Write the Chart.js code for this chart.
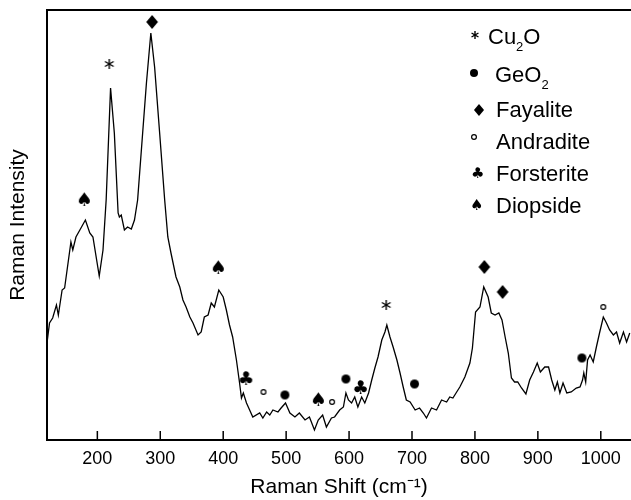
<!DOCTYPE html>
<html lang="en">
<head>
    <meta charset="UTF-8">
    <title>Raman Spectrum</title>
    <script src="https://cdn.jsdelivr.net/npm/chart.js"></script>
    <style>
        html, body { margin: 0; padding: 0; background: #fff; }
    </style>
</head>
<body>
    <canvas id="ramanChart" width="631" height="500"></canvas>

    <script>
        // Raman shift (cm-1) and intensity (arb. units) of the measured spectrum
        const shift = [120, 124, 129, 135, 138, 144, 148, 158, 161, 166,
            174, 181, 188, 193, 203, 209, 214, 221, 227, 233,
            235, 238, 243, 248, 254, 259, 264, 272, 278, 285,
            291, 299, 307, 312, 317, 325, 331, 336, 341, 347,
            352, 360, 365, 370, 376, 381, 386, 393, 400, 405,
            410, 415, 421, 426, 429, 432, 437, 442, 447, 458,
            463, 469, 474, 479, 487, 492, 499, 506, 514, 521,
            530, 537, 545, 551, 558, 564, 572, 577, 585, 591,
            595, 599, 604, 609, 614, 620, 625, 631, 636, 641,
            646, 652, 657, 660, 665, 670, 676, 681, 686, 691,
            697, 705, 712, 718, 723, 731, 739, 747, 755, 760,
            765, 771, 776, 784, 792, 796, 801, 808, 814, 821,
            826, 832, 838, 843, 848, 853, 858, 863, 868, 874,
            881, 887, 893, 899, 904, 911, 917, 922, 927, 931,
            935, 940, 946, 953, 961, 967, 971, 973, 976, 979,
            983, 988, 993, 998, 1004, 1009, 1014, 1020, 1025, 1030,
            1036, 1041, 1046];
        const intensity = [97, 117, 122, 135, 125, 150, 152, 198, 190, 203,
            212, 220, 207, 203, 164, 190, 240, 352, 307, 227,
            223, 225, 210, 213, 211, 220, 240, 307, 357, 407,
            373, 307, 240, 203, 187, 163, 153, 140, 133, 123,
            117, 105, 108, 123, 125, 137, 133, 150, 143, 130,
            115, 103, 80, 57, 42, 47, 37, 30, 23, 27,
            22, 28, 25, 30, 28, 32, 37, 27, 23, 27,
            20, 23, 10, 20, 25, 13, 22, 23, 30, 33,
            47, 40, 37, 43, 33, 43, 37, 47, 60, 72,
            83, 100, 108, 115, 103, 93, 80, 67, 53, 40,
            38, 30, 32, 27, 22, 32, 30, 40, 38, 43,
            42, 48, 53, 63, 77, 92, 128, 133, 153, 143,
            127, 125, 127, 120, 103, 87, 62, 58, 58, 52,
            46, 60, 68, 77, 68, 73, 73, 60, 50, 58,
            47, 57, 47, 48, 52, 53, 60, 67, 58, 80,
            85, 78, 93, 107, 123, 117, 110, 105, 108, 97,
            108, 98, 107];

        // phase assignments: where each marker sits (shift, height above baseline)
        const phases = ['Cu_2O', 'GeO_2', 'Fayalite', 'Andradite', 'Forsterite', 'Diopside'];
        const cu2oShift = [219, 659];
        const cu2oHeight = [376, 135];
        const geo2Shift = [498, 595, 704, 970];
        const geo2Height = [45, 61, 56, 82];
        const fayaliteShift = [287, 815, 844];
        const fayaliteHeight = [418, 173, 148];
        const andraditeShift = [464, 573, 1004];
        const andraditeHeight = [48, 38, 133];
        const forsteriteShift = [436, 618];
        const forsteriteHeight = [62, 53];
        const diopsideShift = [180, 393, 552];
        const diopsideHeight = [241, 173, 41];

        const xTicks = [200, 300, 400, 500, 600, 700, 800, 900, 1000];

        const FONT = '"Liberation Sans", Arial, sans-serif';

        // small canvases used as point styles
        function makeSymbol(kind, s) {
            const c = document.createElement('canvas');
            let ctx = c.getContext('2d');
            if (kind === 'spade' || kind === 'club') {
                const ch = kind === 'spade' ? '\u2660' : '\u2663';
                const font = s + 'px "DejaVu Sans"';
                ctx.font = font;
                const m = ctx.measureText(ch);
                c.width = Math.ceil(m.actualBoundingBoxLeft + m.actualBoundingBoxRight) + 2;
                c.height = Math.ceil(m.actualBoundingBoxAscent + m.actualBoundingBoxDescent) + 2;
                ctx = c.getContext('2d');
                ctx.font = font;
                ctx.fillStyle = '#000';
                ctx.fillText(ch, 1 + m.actualBoundingBoxLeft, 1 + m.actualBoundingBoxAscent);
                return c;
            }
            const d = Math.ceil(s) + 4;
            c.width = d;
            c.height = d;
            ctx.translate(d / 2, d / 2);
            ctx.fillStyle = '#000';
            ctx.strokeStyle = '#000';
            ctx.lineWidth = 1.2;
            if (kind === 'diamond') {
                ctx.beginPath();
                ctx.moveTo(0, -s / 2);
                ctx.lineTo(s * 0.42, 0);
                ctx.lineTo(0, s / 2);
                ctx.lineTo(-s * 0.42, 0);
                ctx.closePath();
                ctx.fill();
            } else if (kind === 'dot') {
                ctx.beginPath();
                ctx.arc(0, 0, s / 2, 0, Math.PI * 2);
                ctx.fill();
            } else if (kind === 'ring') {
                ctx.beginPath();
                ctx.arc(0, 0, s / 2 - 0.6, 0, Math.PI * 2);
                ctx.stroke();
            } else if (kind === 'star') {
                ctx.lineWidth = 1.4;
                for (let k = 0; k < 3; k++) {
                    const a = Math.PI / 2 + k * Math.PI / 3;
                    ctx.beginPath();
                    ctx.moveTo(Math.cos(a) * s / 2, Math.sin(a) * s / 2);
                    ctx.lineTo(-Math.cos(a) * s / 2, -Math.sin(a) * s / 2);
                    ctx.stroke();
                }
            }
            return c;
        }

        const kinds = ['star', 'dot', 'diamond', 'ring', 'club', 'spade'];
        const plotSize = [10, 9, 14, 6, 19, 19];
        const keySize = [8, 8, 12, 6, 15, 15];
        const plotSymbols = kinds.map((k, i) => makeSymbol(k, plotSize[i]));
        const keySymbols = kinds.map((k, i) => makeSymbol(k, keySize[i]));

        const markerShift = [cu2oShift, geo2Shift, fayaliteShift, andraditeShift, forsteriteShift, diopsideShift];
        const markerHeight = [cu2oHeight, geo2Height, fayaliteHeight, andraditeHeight, forsteriteHeight, diopsideHeight];

        const toPoints = (xs, ys) => xs.map((x, i) => ({ x: x, y: ys[i] }));

        const datasets = [{
            label: 'Spectrum',
            data: toPoints(shift, intensity),
            showLine: true,
            borderColor: '#000',
            borderWidth: 1.3,
            pointRadius: 0,
            tension: 0
        }];
        phases.forEach((name, i) => {
            datasets.push({
                label: name,
                data: toPoints(markerShift[i], markerHeight[i]),
                showLine: false,
                pointStyle: plotSymbols[i],
                pointRadius: 5,
                clip: false
            });
        });

        // draws text with _n as a subscript
        function drawRich(ctx, text, x, y, size) {
            const parts = text.split(/_(\d)/);
            parts.forEach((p, i) => {
                const sub = i % 2 === 1;
                ctx.font = (sub ? Math.round(size * 0.6) : size) + 'px ' + FONT;
                ctx.fillText(p, x, sub ? y + 7 : y);
                x += ctx.measureText(p).width;
            });
        }

        // legend in the top right corner
        const phaseKey = {
            id: 'phaseKey',
            afterDraw(chart) {
                const ctx = chart.ctx;
                const symX = [475, 474, 479, 474, 477, 477];
                const symY = [35, 73, 110, 137, 173, 204];
                const textX = [488, 495, 496, 496, 496, 496];
                const textY = [36, 74, 109, 141, 173, 205];
                ctx.save();
                ctx.fillStyle = '#000';
                ctx.textBaseline = 'alphabetic';
                phases.forEach((name, i) => {
                    const s = keySymbols[i];
                    ctx.drawImage(s, Math.round(symX[i] - s.width / 2), Math.round(symY[i] - s.height / 2));
                    drawRich(ctx, name, textX[i], textY[i] + 8, 22);
                });
                ctx.restore();
            }
        };

        // tick marks pointing into the plot, plus the top frame line
        const frame = {
            id: 'frame',
            afterDraw(chart) {
                const { ctx, chartArea, scales } = chart;
                const x = scales.x;
                ctx.save();
                ctx.strokeStyle = '#000';
                ctx.lineWidth = 1.5;
                x.ticks.forEach(t => {
                    const px = x.getPixelForValue(t.value);
                    ctx.beginPath();
                    ctx.moveTo(px, chartArea.bottom);
                    ctx.lineTo(px, chartArea.bottom - 9);
                    ctx.stroke();
                });
                ctx.lineWidth = 2;
                ctx.beginPath();
                ctx.moveTo(chartArea.left - 1, chartArea.top);
                ctx.lineTo(chartArea.right, chartArea.top);
                ctx.stroke();
                ctx.restore();
            }
        };

        new Chart(document.getElementById('ramanChart'), {
            type: 'scatter',
            data: { datasets: datasets },
            options: {
                responsive: false,
                animation: false,
                layout: { autoPadding: false, padding: { top: 10, right: 0, left: 0, bottom: 0 } },
                plugins: {
                    legend: { display: false },
                    tooltip: { enabled: false }
                },
                scales: {
                    x: {
                        type: 'linear',
                        min: 120,
                        max: 1048,
                        afterBuildTicks: scale => { scale.ticks = xTicks.map(v => ({ value: v })); },
                        afterFit: scale => { scale.height = 60; },
                        grid: { display: false, drawTicks: false },
                        border: { display: true, color: '#000', width: 2 },
                        ticks: {
                            autoSkip: false,
                            maxRotation: 0,
                            padding: 8,
                            color: '#000',
                            font: { family: FONT, size: 18 },
                            callback: v => String(v)
                        },
                        title: {
                            display: true,
                            text: 'Raman Shift (cm\u207B\u00B9)',
                            color: '#000',
                            font: { family: FONT, size: 21 },
                            padding: { top: 0, bottom: 0 }
                        }
                    },
                    y: {
                        min: 0,
                        max: 430,
                        afterFit: scale => { scale.width = 47; },
                        grid: { display: false, drawTicks: false },
                        border: { display: true, color: '#000', width: 2 },
                        ticks: { display: false },
                        title: {
                            display: true,
                            text: 'Raman Intensity',
                            color: '#000',
                            font: { family: FONT, size: 21 },
                            padding: { top: 6, bottom: 0 }
                        }
                    }
                }
            },
            plugins: [phaseKey, frame]
        });
    </script>
</body>
</html>
